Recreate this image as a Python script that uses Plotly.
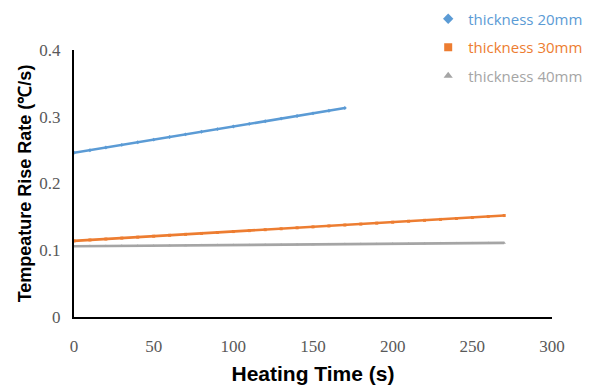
import plotly.graph_objects as go

time_20 = [0, 10, 20, 30, 40, 50, 60, 70, 80, 90, 100, 110, 120, 130, 140, 150, 160, 170]
rate_20 = [0.2460, 0.2499, 0.2539, 0.2578, 0.2618, 0.2657, 0.2696, 0.2736, 0.2775, 0.2815,
           0.2854, 0.2893, 0.2933, 0.2972, 0.3012, 0.3051, 0.3090, 0.3130]

time_30 = [0, 10, 20, 30, 40, 50, 60, 70, 80, 90, 100, 110, 120, 130, 140, 150, 160, 170,
           180, 190, 200, 210, 220, 230, 240, 250, 260, 270]
rate_30 = [0.1140, 0.1154, 0.1168, 0.1182, 0.1196, 0.1210, 0.1224, 0.1238, 0.1252, 0.1266,
           0.1280, 0.1294, 0.1308, 0.1322, 0.1336, 0.1350, 0.1364, 0.1378, 0.1392, 0.1406,
           0.1420, 0.1434, 0.1448, 0.1462, 0.1476, 0.1490, 0.1505, 0.1520]

time_40 = time_30
rate_40 = [0.1060, 0.1062, 0.1064, 0.1066, 0.1067, 0.1069, 0.1071, 0.1073, 0.1075, 0.1077,
           0.1079, 0.1080, 0.1082, 0.1084, 0.1086, 0.1088, 0.1090, 0.1092, 0.1093, 0.1095,
           0.1097, 0.1099, 0.1101, 0.1103, 0.1105, 0.1106, 0.1108, 0.1110]

names = ["thickness 20mm", "thickness 30mm", "thickness 40mm"]
colors = ["#5B9BD5", "#ED7D31", "#A5A5A5"]
symbols = ["diamond", "square", "triangle-up"]
xs = [time_20, time_30, time_40]
ys = [rate_20, rate_30, rate_40]

x_ticks = [0, 50, 100, 150, 200, 250, 300]
y_ticks = [0, 0.1, 0.2, 0.3, 0.4]
y_tick_labels = ["0", "0.1", "0.2", "0.3", "0.4"]

fig = go.Figure()
for i in range(3):
    fig.add_trace(go.Scatter(
        x=xs[i], y=ys[i], mode="lines+markers",
        line=dict(color=colors[i], width=2.6),
        marker=dict(symbol=symbols[i], size=3, color=colors[i]),
        showlegend=False, cliponaxis=False,
    ))
for i in range(3):
    fig.add_trace(go.Scatter(
        x=[None], y=[None], mode="markers",
        marker=dict(symbol=symbols[i], size=8, color=colors[i]),
        name=f"<span style='color:{colors[i]}'>{names[i]}</span>",
        legendgroup=f"g{i}",
    ))

fig.update_layout(
    width=589, height=387,
    margin=dict(l=74, r=37, t=50, b=70, autoexpand=False),
    paper_bgcolor="white", plot_bgcolor="white",
    legend=dict(
        x=0.741, y=1.178, xanchor="left", yanchor="top",
        font=dict(family="Open Sans", size=15),
        tracegroupgap=6, bgcolor="rgba(0,0,0,0)",
    ),
    xaxis=dict(
        range=[0, 300], tickvals=x_ticks, showgrid=False, zeroline=False,
        showline=True, linecolor="black", linewidth=2, automargin=False,
        ticks="", ticklabelstandoff=13,
        tickfont=dict(family="Liberation Serif", size=17, color="#595959"),
        title=dict(text="<b>Heating Time (s)</b>", standoff=11,
                   font=dict(family="Liberation Sans", size=21, color="black")),
    ),
    yaxis=dict(
        range=[0, 0.4], tickvals=y_ticks, ticktext=y_tick_labels, showgrid=False,
        zeroline=False, showline=True, linecolor="black", linewidth=2, automargin=False,
        ticks="", ticklabelstandoff=8,
        tickfont=dict(family="Liberation Serif", size=17, color="#595959"),
        title=dict(text="<b>Tempeature Rise Rate (℃/s)</b>", standoff=3,
                   font=dict(family="Liberation Sans", size=18, color="black")),
    ),
)

fig.write_html("out.html", config={"displayModeBar": False},
               post_script="document.body.style.margin='0px';")
